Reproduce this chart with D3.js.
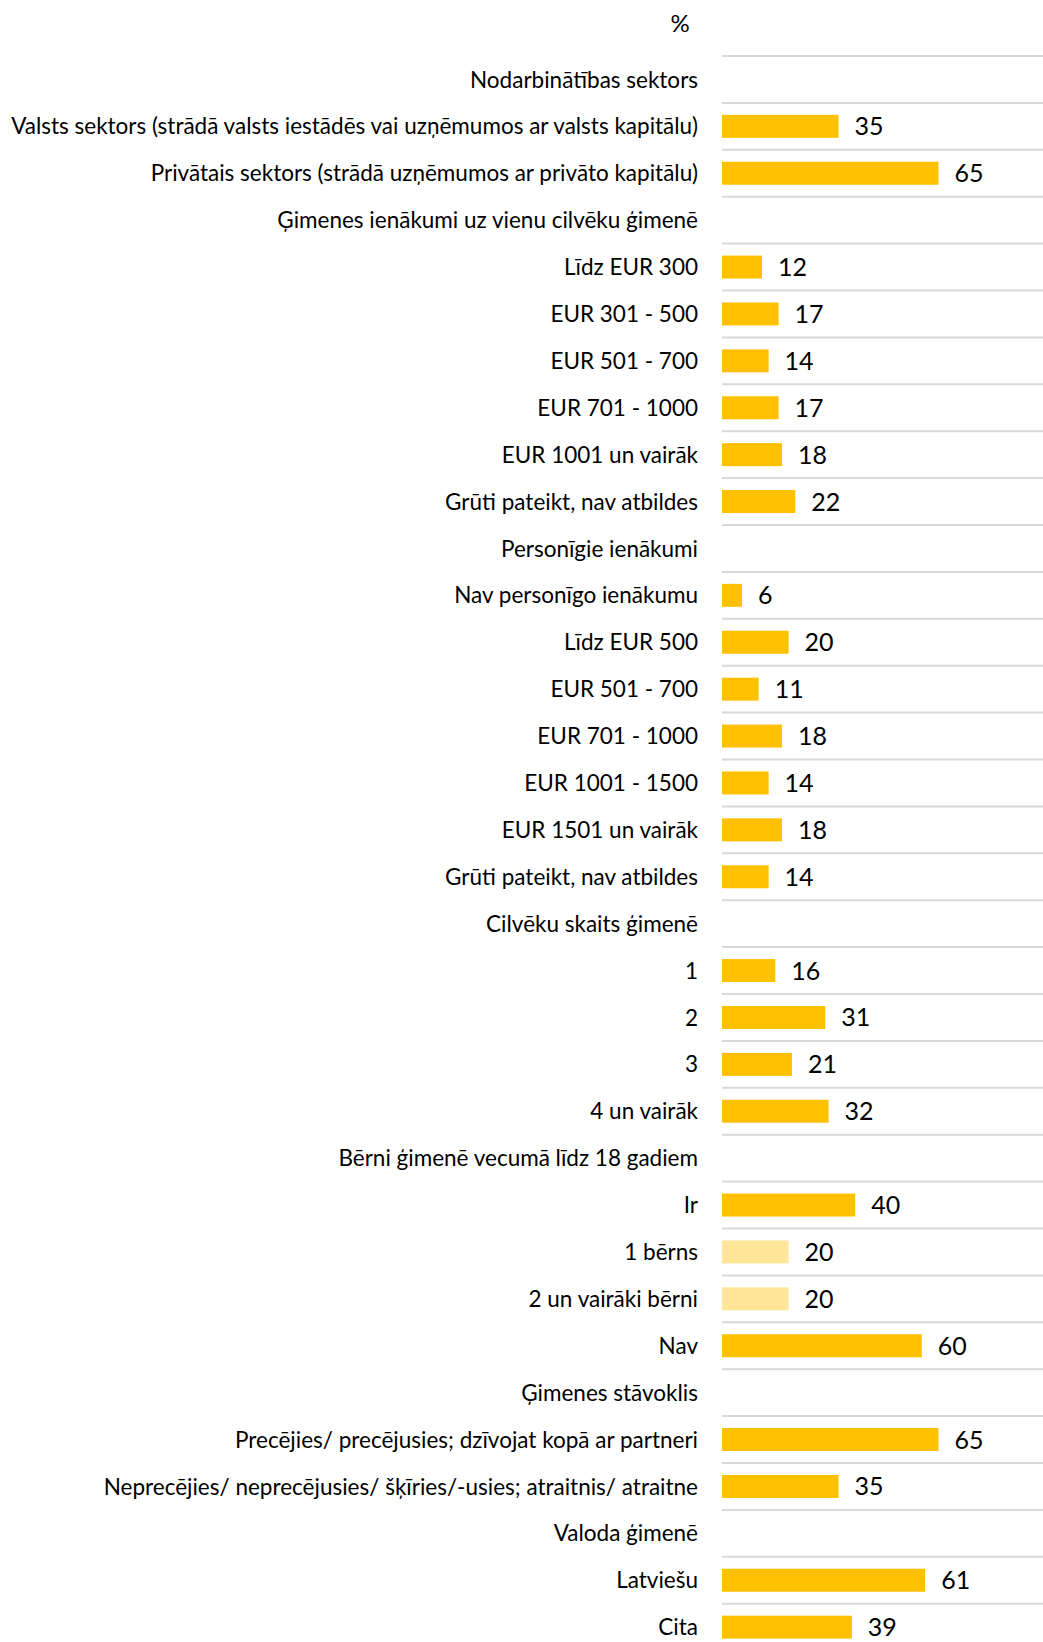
<!DOCTYPE html>
<html>
<head>
<meta charset="utf-8">
<script src="https://cdn.jsdelivr.net/npm/d3@7"></script>
<style>
  body { margin: 0; background: #fff; }
  svg text { font-family: Lato, "Open Sans", sans-serif; fill: #000; }
</style>
</head>
<body>
<svg id="chart"></svg>
<script>
var width = 1043;
var height = 1642;

// rows top to bottom; null value = group heading
var labels = [
  "Nodarbinātības sektors",
  "Valsts sektors (strādā valsts iestādēs vai uzņēmumos ar valsts kapitālu)",
  "Privātais sektors (strādā uzņēmumos ar privāto kapitālu)",
  "Ģimenes ienākumi uz vienu cilvēku ģimenē",
  "Līdz EUR 300",
  "EUR 301 - 500",
  "EUR 501 - 700",
  "EUR 701 - 1000",
  "EUR 1001 un vairāk",
  "Grūti pateikt, nav atbildes",
  "Personīgie ienākumi",
  "Nav personīgo ienākumu",
  "Līdz EUR 500",
  "EUR 501 - 700",
  "EUR 701 - 1000",
  "EUR 1001 - 1500",
  "EUR 1501 un vairāk",
  "Grūti pateikt, nav atbildes",
  "Cilvēku skaits ģimenē",
  "1",
  "2",
  "3",
  "4 un vairāk",
  "Bērni ģimenē vecumā līdz 18 gadiem",
  "Ir",
  "1 bērns",
  "2 un vairāki bērni",
  "Nav",
  "Ģimenes stāvoklis",
  "Precējies/ precējusies; dzīvojat kopā ar partneri",
  "Neprecējies/ neprecējusies/ šķīries/-usies; atraitnis/ atraitne",
  "Valoda ģimenē",
  "Latviešu",
  "Cita"
];
var values = [
  null, 35, 65,
  null, 12, 17, 14, 17, 18, 22,
  null, 6, 20, 11, 18, 14, 18, 14,
  null, 16, 31, 21, 32,
  null, 40, 20, 20, 60,
  null, 65, 35,
  null, 61, 39
];
// sub-rows of "Ir" drawn in a lighter shade
var lightRows = [25, 26];

var unitLabel = "%";

var colorMain = "#FFC000";
var colorLight = "#FFE699";
var gridColor = "#D9D9D9";

var svg = d3.select("#chart").attr("width", width).attr("height", height);

var rows = d3.range(labels.length);

var y = d3.scaleBand()
  .domain(rows)
  .range([56, 56 + 46.9 * rows.length])
  .paddingInner(0.51)
  .paddingOuter(0.255);

var x = d3.scaleLinear()
  .domain([0, 100])
  .range([722, 1055]);

function rowTop(i) {
  return y(i) - (y.step() - y.bandwidth()) / 2;
}

// grid line at the top of each row
svg.append("g").attr("class", "grid")
  .selectAll("line")
  .data(rows)
  .enter()
  .append("line")
  .attr("x1", x(0))
  .attr("x2", width)
  .attr("y1", rowTop)
  .attr("y2", rowTop)
  .attr("stroke", gridColor)
  .attr("stroke-width", 2);

var barRows = rows.filter(function(i) { return values[i] != null; });

svg.append("g").attr("class", "bars")
  .selectAll("rect")
  .data(barRows)
  .enter()
  .append("rect")
  .attr("x", x(0))
  .attr("y", function(i) { return y(i); })
  .attr("width", function(i) { return x(values[i]) - x(0); })
  .attr("height", y.bandwidth())
  .attr("fill", function(i) { return lightRows.indexOf(i) >= 0 ? colorLight : colorMain; });

svg.append("g").attr("class", "values")
  .selectAll("text")
  .data(barRows)
  .enter()
  .append("text")
  .attr("x", function(i) { return x(values[i]) + 16; })
  .attr("y", function(i) { return y(i) + y.bandwidth() / 2; })
  .attr("dy", "0.36em")
  .style("font-size", "25px")
  .text(function(i) { return values[i]; });

svg.append("g").attr("class", "labels")
  .selectAll("text")
  .data(rows)
  .enter()
  .append("text")
  .attr("x", 698)
  .attr("y", function(i) { return y(i) + y.bandwidth() / 2; })
  .attr("dy", "0.36em")
  .attr("text-anchor", "end")
  .style("font-size", "22.5px")
  .text(function(i) { return labels[i]; });

svg.append("text")
  .attr("x", 680)
  .attr("y", 23)
  .attr("dy", "0.36em")
  .attr("text-anchor", "middle")
  .style("font-size", "24px")
  .text(unitLabel);
</script>
</body>
</html>
